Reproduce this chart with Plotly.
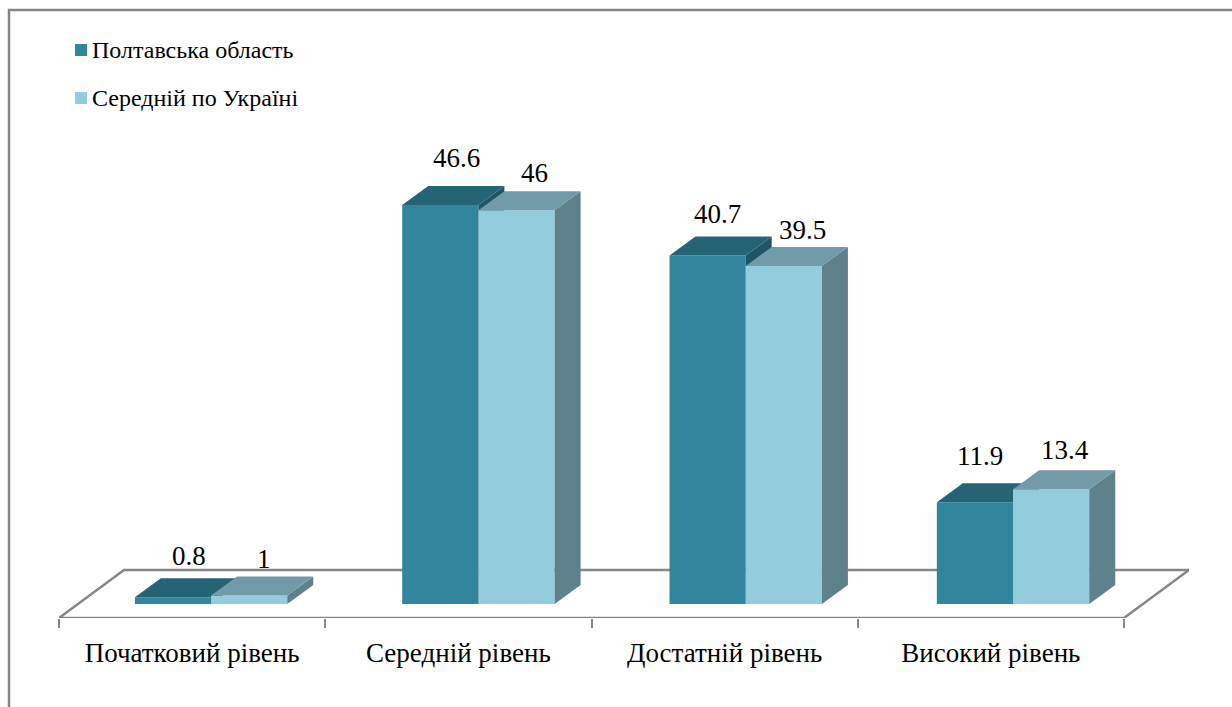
import plotly.graph_objects as go

categories = ["Початковий рівень", "Середній рівень", "Достатній рівень", "Високий рівень"]
series_names = ["Полтавська область", "Середній по Україні"]
poltava = [0.8, 46.6, 40.7, 11.9]
ukraine = [1, 46, 39.5, 13.4]

# label nudges in px relative to the bar's top-front centre
label_dx = [[16, 16, 10, 5], [15, 18, 19, 14]]
label_dy = [[22, 28, 23, 27], [17, 18, 17, 20]]

FRONT = ["#31859C", "#93CDDD"]
TOP = ["#256475", "#729BAA"]
SIDE = ["#1F5566", "#5E818B"]
GRAY = "#868686"
FONT = "Liberation Serif"

# page geometry (px)
W, H = 1232, 707
PL, PR, PT, PB = 59, 1189, 10, 618
CAT_PX = 266.25
Y_PX = 8.56
ZERO_PX = 604

to_x = lambda px: px / CAT_PX
to_y = lambda px: px / Y_PX
BAR_W = to_x(76.2)
DX, DY = to_x(26), to_y(19)
FLOOR_DX, FLOOR_DY = to_x(65), to_y(48)
FLOOR_FRONT = -to_y(PB - ZERO_PX)
x_range = [0, to_x(PR - PL)]
y_range = [FLOOR_FRONT, to_y(ZERO_PX - PT)]

fig = go.Figure()

def axes(k):
    return ("x", "y") if k == 0 else ("x2", "y2")

annotations = []
for k, values in enumerate([poltava, ukraine]):
    xa, ya = axes(k)
    lefts = [i + 0.285 + 0.004 * i + k * BAR_W for i in range(len(values))]
    fig.add_trace(go.Bar(
        x=[l + BAR_W / 2 for l in lefts], y=values, width=BAR_W, name=series_names[k],
        marker=dict(color=FRONT[k], line=dict(width=0)), xaxis=xa, yaxis=ya,
        showlegend=False, hoverinfo="y+name",
    ))
    sx, sy, tx, ty = [], [], [], []
    for l, v in zip(lefts, values):
        r = l + BAR_W
        sx += [r, r + DX, r + DX, r, r, None]
        sy += [0, DY, v + DY, v, 0, None]
        tx += [l, l + DX, r + DX, r, l, None]
        ty += [v, v + DY, v + DY, v, v, None]
    for px, py, col in ((sx, sy, SIDE[k]), (tx, ty, TOP[k])):
        fig.add_trace(go.Scatter(
            x=px, y=py, mode="lines", fill="toself", fillcolor=col,
            line=dict(width=0, color=col), xaxis=xa, yaxis=ya,
            showlegend=False, hoverinfo="skip",
        ))
    for i, (l, v) in enumerate(zip(lefts, values)):
        annotations.append(dict(
            x=l + BAR_W / 2, y=v + DY, xref="x", yref="y", text=f"{v:g}", showarrow=False,
            xshift=label_dx[k][i], yshift=label_dy[k][i],
            font=dict(family=FONT, size=27, color="#000000"),
        ))

n = len(categories)
shapes = [
    # chart frame (right and bottom edges fall off the page)
    dict(type="rect", xref="paper", yref="paper",
         x0=(9 - PL) / (PR - PL), x1=1.1, y0=-0.3, y1=1.0,
         line=dict(color=GRAY, width=2.5), layer="below"),
    # floor
    dict(type="path", xref="x", yref="y", layer="below",
         path=f"M0,{FLOOR_FRONT} L{n},{FLOOR_FRONT} L{n + FLOOR_DX},{FLOOR_FRONT + FLOOR_DY} "
              f"L{FLOOR_DX},{FLOOR_FRONT + FLOOR_DY} Z",
         line=dict(color=GRAY, width=2.5), fillcolor="rgba(0,0,0,0)"),
]

# legend
for k, name in enumerate(series_names):
    yc = 50 + 48 * k
    yp = lambda p: (PB - p) / (PB - PT)
    xp = lambda p: (p - PL) / (PR - PL)
    shapes.append(dict(type="rect", xref="paper", yref="paper", x0=xp(75), x1=xp(87),
                       y0=yp(yc + 6), y1=yp(yc - 6), fillcolor=FRONT[k], line=dict(width=0)))
    annotations.append(dict(xref="paper", yref="paper", x=xp(90), y=yp(yc), xanchor="left",
                            yanchor="middle", text=name, showarrow=False,
                            font=dict(family=FONT, size=24, color="#000000")))

fig.update_layout(
    width=W, height=H, margin=dict(l=PL, r=W - PR, t=PT, b=H - PB, pad=0),
    paper_bgcolor="white", plot_bgcolor="rgba(0,0,0,0)", barmode="overlay", showlegend=False,
    shapes=shapes, annotations=annotations,
    font=dict(family=FONT, size=24, color="#000000"),
    xaxis=dict(range=x_range, showgrid=False, zeroline=False, showline=False, fixedrange=True,
               tickmode="array", tickvals=[i + 0.5 for i in range(n)], ticktext=categories,
               ticks="", ticklabelstandoff=16, tickfont=dict(family=FONT, size=27, color="#000000"),
               minor=dict(tickmode="array", tickvals=list(range(n + 1)), ticks="outside",
                          ticklen=9, tickwidth=2, tickcolor=GRAY)),
    yaxis=dict(range=y_range, visible=False, fixedrange=True),
    xaxis2=dict(overlaying="x", matches="x", visible=False),
    yaxis2=dict(overlaying="y", matches="y", visible=False),
)

fig.write_html("out.html", config={"displayModeBar": False},
               post_script="document.body.style.margin='0';document.documentElement.style.overflow='hidden';")
